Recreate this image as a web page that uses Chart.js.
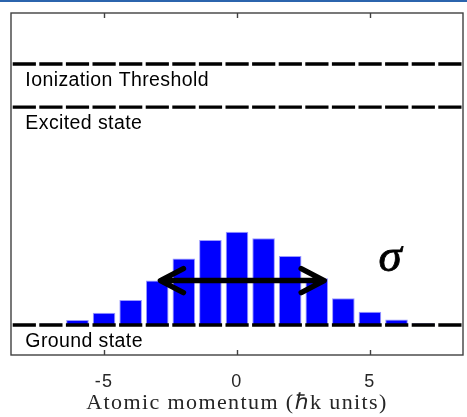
<!DOCTYPE html>
<html>
<head>
<meta charset="utf-8">
<script src="https://cdn.jsdelivr.net/npm/chart.js@4"></script>
<style>
  html, body { margin: 0; padding: 0; background: #fff; }
  #wrap { position: relative; width: 467px; height: 417px; }
  #topline { position: absolute; left: 0; top: 0; width: 467px; height: 2px; background: #2b64ad; }
</style>
</head>
<body>
<div id="wrap">
  <canvas id="momentumChart" width="467" height="417"></canvas>
  <div id="topline"></div>
</div>
<script>
// momentum distribution (in hbar k) and relative population of each class
const momentum = [-7, -6, -5, -4, -3, -2, -1, 0, 1, 2, 3, 4, 5, 6, 7];
const population = [0.05, 0.17, 0.41, 0.83, 1.48, 2.22, 2.83, 3.11, 2.89, 2.30, 1.56, 0.89, 0.44, 0.18, 0.06];

// energy levels drawn as dashed lines
const levelNames = ['Ground state', 'Excited state', 'Ionization Threshold'];
const levelEnergies = [0, 7.26, 8.7];

const xTicks = [-5, 0, 5];
const xRange = [-8.5, 8.5];
const yRange = [-1, 10.4];

// width arrow and its label
const sigmaArrow = [-2.88, 3.28];
const sigmaLevel = 1.48;
const sigmaLabel = { text: 'σ', x: 5.76, y: 2.2 };
const labelX = -7.96;

const axisColor = '#404040';

const levelDatasets = levelEnergies.map(e => ({
  type: 'line',
  data: [{ x: xRange[0], y: e }, { x: xRange[1], y: e }],
  borderColor: '#000',
  borderWidth: 3.3,
  borderDash: [23.2, 3.4],
  borderDashOffset: 24.9,
  pointRadius: 0,
  order: 0
}));

const annotations = {
  id: 'annotations',
  beforeDraw(chart) {
    // wider spacing for the axis text (title is set in a wide serif)
    chart.ctx.letterSpacing = '1.4px';
  },
  beforeDatasetsDraw(chart) {
    chart.ctx.letterSpacing = '0px';
  },
  afterDatasetsDraw(chart) {
    const { ctx, chartArea, scales: { x, y } } = chart;
    ctx.save();

    // level labels under each line
    ctx.fillStyle = '#000';
    ctx.font = '19.5px "Liberation Sans", Arial, sans-serif';
    ctx.letterSpacing = '0.4px';
    ctx.textAlign = 'left';
    ctx.textBaseline = 'alphabetic';
    levelNames.forEach((name, i) => {
      ctx.fillText(name, x.getPixelForValue(labelX), y.getPixelForValue(levelEnergies[i]) + 22);
    });
    ctx.letterSpacing = '0px';

    // double arrow for the width
    const ay = y.getPixelForValue(sigmaLevel);
    const ax0 = x.getPixelForValue(sigmaArrow[0]);
    const ax1 = x.getPixelForValue(sigmaArrow[1]);
    ctx.strokeStyle = '#000';
    ctx.lineWidth = 5.5;
    ctx.lineCap = 'round';
    ctx.lineJoin = 'round';
    ctx.beginPath();
    ctx.moveTo(ax0 + 3, ay);
    ctx.lineTo(ax1 - 3, ay);
    ctx.moveTo(ax0 + 23, ay - 12);
    ctx.lineTo(ax0, ay);
    ctx.lineTo(ax0 + 23, ay + 12);
    ctx.moveTo(ax1 - 23, ay - 12);
    ctx.lineTo(ax1, ay);
    ctx.lineTo(ax1 - 23, ay + 12);
    ctx.stroke();

    ctx.font = 'italic 47px "Liberation Serif", "Times New Roman", serif';
    ctx.textAlign = 'center';
    ctx.textBaseline = 'middle';
    ctx.lineWidth = 0.8;
    ctx.lineJoin = 'miter';
    const sx = x.getPixelForValue(sigmaLabel.x);
    const sy = y.getPixelForValue(sigmaLabel.y);
    ctx.fillText(sigmaLabel.text, sx, sy);
    ctx.strokeText(sigmaLabel.text, sx, sy);

    // box and inward ticks
    ctx.strokeStyle = axisColor;
    ctx.lineWidth = 1.4;
    ctx.lineCap = 'butt';
    ctx.strokeRect(chartArea.left, chartArea.top, chartArea.right - chartArea.left, chartArea.bottom - chartArea.top);
    ctx.beginPath();
    xTicks.forEach(v => {
      const px = Math.round(x.getPixelForValue(v)) + 0.5;
      ctx.moveTo(px, chartArea.bottom);
      ctx.lineTo(px, chartArea.bottom - 5);
      ctx.moveTo(px, chartArea.top);
      ctx.lineTo(px, chartArea.top + 5);
    });
    ctx.stroke();
    ctx.restore();
  }
};

new Chart(document.getElementById('momentumChart'), {
  type: 'bar',
  data: {
    datasets: [
      ...levelDatasets,
      {
        type: 'bar',
        data: momentum.map((m, i) => ({ x: m, y: population[i] })),
        backgroundColor: '#0000ff',
        borderColor: '#9a9aff',
        borderWidth: 1,
        categoryPercentage: 1,
        barPercentage: 0.85,
        order: 1
      }
    ]
  },
  options: {
    responsive: false,
    animation: false,
    layout: { padding: { left: 11, right: 4, top: 13, bottom: 0 } },
    plugins: { legend: { display: false }, tooltip: { enabled: false } },
    scales: {
      x: {
        type: 'linear',
        min: xRange[0],
        max: xRange[1],
        offset: false,
        afterBuildTicks: scale => { scale.ticks = xTicks.map(v => ({ value: v })); },
        afterFit: scale => { scale.height = 62; },
        grid: { display: false, drawTicks: false },
        border: { display: false },
        ticks: {
          padding: 16,
          color: '#262626',
          font: { family: '"Liberation Sans", Arial, sans-serif', size: 18 }
        },
        title: {
          display: true,
          text: 'Atomic momentum (ℏk units)',
          color: '#262626',
          padding: { top: 0, bottom: 1 },
          font: { family: '"Liberation Serif", "Times New Roman", serif', size: 22 }
        }
      },
      y: {
        display: false,
        min: yRange[0],
        max: yRange[1]
      }
    }
  },
  plugins: [annotations]
});
</script>
</body>
</html>
